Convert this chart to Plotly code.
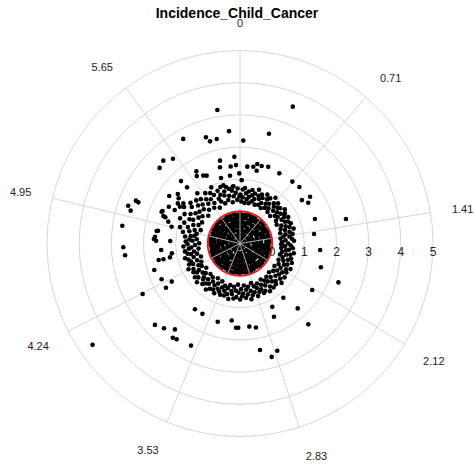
import numpy as np
import plotly.graph_objects as go

# Angular tick values (radians) and radial tick values
angle_ticks = [0, 0.71, 1.41, 2.12, 2.83, 3.53, 4.24, 4.95, 5.65]
radial_ticks = [0, 1, 2, 3, 4, 5]
radial_range = [-1, 5]
threshold = 0

# Scores below the threshold (dense core)
core_theta = [
    0.02, 0.15, 0.27, 0.40, 0.52, 0.65, 0.78, 0.90, 1.03, 1.15, 1.28, 1.41, 1.53, 1.66, 1.78, 1.91, 2.04,
    2.16, 2.29, 2.41, 2.54, 2.67, 2.79, 2.92, 3.04, 3.17, 3.30, 3.42, 3.55, 3.67, 3.80, 3.93, 4.05, 4.18,
    4.30, 4.43, 4.56, 4.68, 4.81, 4.93, 5.06, 5.19, 5.31, 5.44, 5.56, 5.69, 5.82, 5.94, 6.07, 6.19,
    0.07, 0.21, 0.36, 0.50, 0.64, 0.78, 0.93, 1.07, 1.21, 1.36, 1.50, 1.64, 1.78, 1.93, 2.07, 2.21, 2.36,
    2.50, 2.64, 2.78, 2.93, 3.07, 3.21, 3.36, 3.50, 3.64, 3.78, 3.93, 4.07, 4.21, 4.36, 4.50, 4.64, 4.78,
    4.93, 5.07, 5.21, 5.36, 5.50, 5.64, 5.78, 5.93, 6.07, 6.21,
    0.11, 0.28, 0.45, 0.62, 0.79, 0.96, 1.13, 1.30, 1.47, 1.64, 1.81, 1.98, 2.15, 2.32, 2.49, 2.66, 2.83,
    3.00, 3.17, 3.34, 3.51, 3.68, 3.85, 4.02, 4.19, 4.36, 4.53, 4.70, 4.87, 5.04, 5.21, 5.38, 5.55, 5.72,
    5.89, 6.06, 6.23,
    0.04, 0.25, 0.46, 0.67, 0.88, 1.09, 1.30, 1.51, 1.71, 1.92, 2.13, 2.34, 2.55, 2.76, 2.97, 3.18, 3.39,
    3.60, 3.81, 4.02, 4.23, 4.44, 4.65, 4.86, 5.07, 5.28, 5.49, 5.70, 5.91, 6.12,
    0.13, 0.40, 0.68, 0.95, 1.22, 1.50, 1.77, 2.04, 2.32, 2.59, 2.86, 3.14, 3.41, 3.68, 3.96, 4.23, 4.50,
    4.78, 5.05, 5.32, 5.59, 5.87, 6.14,
    0.21, 0.63, 1.05, 1.47, 1.89, 2.30, 2.72, 3.14, 3.56, 3.98, 4.40, 4.82, 5.24, 5.66, 6.08,
    0.35, 1.13, 1.92, 2.70, 3.49, 4.27, 5.06, 5.84,
    0.80, 2.90, 5.00,
]
core_r = [
    -0.08, -0.11, -0.07, -0.10, -0.09, -0.12, -0.07, -0.09, -0.11, -0.08, -0.10, -0.06, -0.09, -0.12, -0.08,
    -0.10, -0.07, -0.11, -0.09, -0.08, -0.12, -0.10, -0.07, -0.09, -0.11, -0.08, -0.10, -0.06, -0.09, -0.12,
    -0.08, -0.10, -0.07, -0.11, -0.09, -0.08, -0.12, -0.10, -0.07, -0.09, -0.11, -0.08, -0.10, -0.06, -0.09,
    -0.12, -0.08, -0.10, -0.07, -0.11,
    -0.21, -0.19, -0.23, -0.20, -0.18, -0.22, -0.21, -0.19, -0.24, -0.20, -0.17, -0.22, -0.21, -0.19, -0.23,
    -0.20, -0.18, -0.22, -0.21, -0.19, -0.24, -0.20, -0.17, -0.22, -0.21, -0.19, -0.23, -0.20, -0.18, -0.22,
    -0.21, -0.19, -0.24, -0.20, -0.17, -0.22, -0.21, -0.19, -0.23, -0.20, -0.18, -0.22, -0.21, -0.19,
    -0.33, -0.35, -0.31, -0.34, -0.32, -0.36, -0.33, -0.30, -0.35, -0.33, -0.32, -0.34, -0.31, -0.36, -0.33,
    -0.35, -0.32, -0.34, -0.30, -0.33, -0.35, -0.31, -0.34, -0.32, -0.36, -0.33, -0.30, -0.35, -0.33, -0.32,
    -0.34, -0.31, -0.36, -0.33, -0.35, -0.32, -0.34,
    -0.46, -0.44, -0.48, -0.45, -0.47, -0.43, -0.46, -0.49, -0.44, -0.46, -0.45, -0.48, -0.43, -0.46, -0.47,
    -0.44, -0.46, -0.49, -0.45, -0.43, -0.47, -0.46, -0.44, -0.48, -0.45, -0.46, -0.43, -0.47, -0.44, -0.46,
    -0.58, -0.60, -0.57, -0.59, -0.61, -0.58, -0.56, -0.60, -0.59, -0.57, -0.61, -0.58, -0.60, -0.56, -0.59,
    -0.58, -0.61, -0.57, -0.60, -0.59, -0.58, -0.56, -0.60,
    -0.71, -0.73, -0.70, -0.74, -0.72, -0.71, -0.73, -0.70, -0.72, -0.74, -0.71, -0.73, -0.72, -0.70, -0.73,
    -0.85, -0.86, -0.84, -0.86, -0.85, -0.84, -0.86, -0.85,
    -0.96, -0.97, -0.95,
]

# Scores just above the threshold (ring)
ring_theta = [
    0.01, 0.03, 0.05, 0.06, 0.09, 0.11, 0.12, 0.15, 0.17, 0.19, 0.21, 0.23, 0.25, 0.27, 0.29, 0.31, 0.34,
    0.36, 0.37, 0.40, 0.42, 0.44, 0.46, 0.48, 0.51, 0.53, 0.55, 0.57, 0.59, 0.61, 0.63, 0.66, 0.68, 0.70,
    0.72, 0.74, 0.76, 0.79, 0.81, 0.83, 0.85, 0.87, 0.90, 0.92, 0.94, 0.96, 0.98, 1.01, 1.03, 1.05, 1.07,
    1.10, 1.12, 1.14, 1.16, 1.19, 1.21, 1.23, 1.25, 1.28, 1.30, 1.32, 1.34, 1.37, 1.39,
    1.41, 1.43, 1.45, 1.48, 1.50, 1.52, 1.54, 1.57, 1.59, 1.61, 1.63, 1.66, 1.68, 1.70, 1.72, 1.75, 1.77,
    1.79, 1.81, 1.84, 1.86, 1.88, 1.90, 1.93, 1.95, 1.97, 1.99, 2.02, 2.04, 2.06, 2.08,
    2.11, 2.13, 2.15, 2.17, 2.20, 2.22, 2.24, 2.26, 2.29, 2.31, 2.33, 2.35, 2.38, 2.40, 2.42, 2.44, 2.47,
    2.49, 2.51, 2.53, 2.56, 2.58, 2.60, 2.62, 2.65, 2.67, 2.69, 2.71, 2.74, 2.76, 2.78,
    2.81, 2.83, 2.85, 2.87, 2.90, 2.92, 2.94, 2.96, 2.99, 3.01, 3.03, 3.05, 3.08, 3.10, 3.12, 3.14, 3.17,
    3.19, 3.21, 3.23, 3.26, 3.28, 3.30, 3.32, 3.35, 3.37, 3.39, 3.41, 3.44, 3.46, 3.48,
    3.51, 3.53, 3.55, 3.58, 3.60, 3.62, 3.64, 3.67, 3.69, 3.71, 3.73, 3.76, 3.78, 3.80, 3.82, 3.85, 3.87,
    3.89, 3.91, 3.94, 3.96, 3.98, 4.00, 4.03, 4.05, 4.07, 4.09, 4.12, 4.14, 4.16, 4.18,
    4.21, 4.23, 4.25, 4.27, 4.30, 4.32, 4.34, 4.36, 4.39, 4.41, 4.43, 4.45, 4.48, 4.50, 4.52, 4.54, 4.57,
    4.59, 4.61, 4.63, 4.66, 4.68, 4.70, 4.72, 4.75, 4.77, 4.79, 4.81, 4.84, 4.86, 4.88,
    4.91, 4.93, 4.95, 4.98, 5.00, 5.02, 5.04, 5.07, 5.09, 5.11, 5.13, 5.16, 5.18, 5.20, 5.22, 5.25, 5.27,
    5.29, 5.31, 5.34, 5.36, 5.38, 5.40, 5.43, 5.45, 5.47, 5.49, 5.52, 5.54, 5.56, 5.58, 5.61, 5.63,
    5.66, 5.68, 5.70, 5.72, 5.75, 5.77, 5.79, 5.81, 5.84, 5.86, 5.88, 5.90, 5.93, 5.95, 5.97, 5.99, 6.02,
    6.04, 6.06, 6.08, 6.11, 6.13, 6.15, 6.17, 6.20, 6.22, 6.24, 6.27,
]
ring_r = [
    0.52, 0.31, 0.68, 0.44, 0.73, 0.27, 0.57, 0.39, 0.64, 0.48, 0.28, 0.71, 0.55, 0.36, 0.62, 0.45, 0.77,
    0.29, 0.59, 0.50, 0.67, 0.33, 0.58, 0.42, 0.74, 0.28, 0.61, 0.47, 0.69, 0.35, 0.53, 0.80, 0.41, 0.63,
    0.30, 0.56, 0.72, 0.45, 0.61, 0.27, 0.66, 0.51, 0.38, 0.75, 0.57, 0.43, 0.68, 0.32, 0.60, 0.49, 0.71,
    0.28, 0.55, 0.64, 0.40, 0.70, 0.52, 0.34, 0.62, 0.46, 0.73, 0.29, 0.58, 0.44, 0.66,
    0.37, 0.55, 0.27, 0.62, 0.42, 0.68, 0.31, 0.50, 0.28, 0.58, 0.40, 0.65, 0.29, 0.53, 0.44, 0.70, 0.33,
    0.60, 0.48, 0.29, 0.66, 0.39, 0.57, 0.72, 0.45, 0.30, 0.61, 0.52, 0.76, 0.36, 0.64,
    0.47, 0.70, 0.28, 0.59, 0.43, 0.74, 0.55, 0.34, 0.66, 0.49, 0.78, 0.27, 0.61, 0.41, 0.69, 0.54, 0.32,
    0.72, 0.46, 0.63, 0.38, 0.75, 0.52, 0.29, 0.67, 0.44, 0.71, 0.57, 0.35, 0.62, 0.48,
    0.73, 0.40, 0.58, 0.28, 0.66, 0.51, 0.77, 0.37, 0.60, 0.45, 0.70, 0.31, 0.56, 0.64, 0.42, 0.74, 0.53,
    0.28, 0.67, 0.47, 0.72, 0.36, 0.59, 0.50, 0.76, 0.33, 0.62, 0.44, 0.69, 0.55, 0.39,
    0.71, 0.48, 0.63, 0.30, 0.57, 0.74, 0.42, 0.66, 0.52, 0.28, 0.69, 0.45, 0.78, 0.58, 0.35, 0.64, 0.49,
    0.72, 0.32, 0.60, 0.54, 0.80, 0.41, 0.67, 0.47, 0.75, 0.29, 0.61, 0.52, 0.70, 0.38,
    0.65, 0.46, 0.79, 0.33, 0.59, 0.71, 0.43, 0.62, 0.28, 0.68, 0.50, 0.77, 0.37, 0.56, 0.66, 0.45, 0.73,
    0.30, 0.60, 0.52, 0.76, 0.40, 0.63, 0.27, 0.69, 0.48, 0.58, 0.35, 0.72, 0.55, 0.44,
    0.81, 0.38, 0.62, 0.93, 0.47, 0.70, 0.29, 0.85, 0.56, 1.02, 0.41, 0.74, 0.63, 0.95, 0.35, 0.79, 0.52,
    1.08, 0.67, 0.44, 0.88, 0.60, 0.99, 0.31, 0.76, 0.55, 0.91, 0.68, 0.42, 0.84, 1.05, 0.58, 0.73,
    0.37, 0.90, 0.65, 0.49, 0.82, 0.28, 0.71, 0.96, 0.54, 0.43, 0.78, 0.63, 0.33, 0.86, 0.57, 0.69, 0.40,
    0.81, 0.52, 0.74, 0.30, 0.66, 0.48, 0.79, 0.58, 0.36, 0.71, 0.46,
]

# Scattered high scores
outer_theta = [
    6.115, 6.186, 5.786, 5.973, 5.998, 6.064, 6.218, 6.046, 6.026, 6.163, 5.536, 5.614, 5.467, 5.739,
    5.713, 5.787, 5.826, 6.001, 6.137, 6.004, 5.526, 5.527, 5.304, 5.384, 5.348, 5.285, 5.262, 5.186,
    5.189, 5.038, 5.103, 5.097, 5.004, 5.110, 5.056, 5.050, 5.008, 4.862, 4.867, 4.953, 0.368, 0.258,
    0.032, 0.095, 0.172, 0.214, 0.273, 0.353, 0.225, 0.511, 0.702, 0.810, 0.959, 0.982, 1.032, 1.255,
    1.344, 1.443, 1.652, 1.857, 2.143, 1.947, 2.468, 2.670, 2.415, 2.707, 2.440, 3.030, 2.954, 2.956,
    2.869, 2.807, 3.742, 3.632, 3.419, 3.249, 3.189, 3.162, 3.949, 3.873, 3.790, 3.761, 3.726, 3.589,
    4.111, 4.234, 4.284, 4.203, 4.174, 4.680, 4.610, 4.764, 4.745, 4.412, 4.512, 4.630, 4.509, 4.517,
    4.569, 4.748, 4.861, 5.098, 0.027, 6.232, 6.273, 6.155, 4.792, 5.329,
]
outer_r = [
    3.21, 2.51, 2.70, 2.47, 2.31, 2.33, 1.70, 1.65, 1.45, 1.41, 2.51, 2.36, 2.43, 1.62,
    1.49, 1.40, 1.35, 1.12, 1.13, 0.88, 1.67, 1.40, 1.65, 1.47, 1.37, 1.30, 1.19, 1.28,
    1.49, 2.67, 2.50, 2.41, 2.55, 1.61, 1.53, 1.46, 1.33, 2.70, 1.58, 1.19, 3.56, 2.53,
    2.20, 1.40, 1.42, 1.53, 1.50, 1.54, 1.32, 1.50, 1.52, 1.55, 1.35, 1.62, 1.47, 1.45,
    2.38, 1.32, 1.50, 1.62, 1.67, 2.29, 1.16, 1.21, 1.70, 1.51, 2.29, 1.60, 1.66, 2.37,
    2.66, 2.53, 1.48, 1.48, 1.53, 1.41, 1.62, 1.62, 2.66, 2.54, 2.35, 2.60, 2.57, 2.52,
    4.56, 2.41, 1.68, 1.43, 1.68, 2.63, 2.59, 1.68, 1.61, 1.79, 1.58, 1.46, 1.43, 1.22,
    1.14, 1.17, 1.62, 1.63, 0.97, 1.44, 1.18, 0.78, 1.65, 1.16,
]

grid_color = "#d6d6d6"
text_color = "#222222"
font_family = "Liberation Sans, Arial, sans-serif"

fig = go.Figure()

# core below the threshold
fig.add_trace(go.Scatterpolar(
    r=core_r, theta=np.degrees(np.array(core_theta)), mode="markers",
    marker=dict(color="black", size=5, line=dict(width=0)),
    showlegend=False, hoverinfo="skip",
))

# ring and scattered scores above the threshold
fig.add_trace(go.Scatterpolar(
    r=ring_r + outer_r, theta=np.degrees(np.array(ring_theta + outer_theta)), mode="markers",
    marker=dict(color="black", size=4.6, line=dict(width=0)),
    showlegend=False, hoverinfo="skip",
))

# light spokes over the core, continuing the angular grid
spoke_r, spoke_theta = [], []
for t in angle_ticks:
    spoke_r += [radial_range[0], threshold, None]
    spoke_theta += [np.degrees(t), np.degrees(t), None]
fig.add_trace(go.Scatterpolar(
    r=spoke_r, theta=spoke_theta, mode="lines",
    line=dict(color="#b0b0b0", width=1),
    showlegend=False, hoverinfo="skip",
))

# threshold circle
circle_theta = np.linspace(0, 360, 361)
fig.add_trace(go.Scatterpolar(
    r=np.full(circle_theta.shape, threshold), theta=circle_theta, mode="lines",
    line=dict(color="#dd1f1f", width=2),
    showlegend=False, hoverinfo="skip",
))

fig.update_layout(
    width=474, height=465,
    margin=dict(l=47, r=41, t=50, b=28),
    paper_bgcolor="white", plot_bgcolor="white",
    font=dict(family=font_family, color=text_color, size=11),
    title=dict(
        text="<b>Incidence_Child_Cancer</b>", x=0.5, xanchor="center",
        y=0.972, yref="container", yanchor="middle",
        font=dict(size=14, color="black", family=font_family),
    ),
    polar=dict(
        bgcolor="white",
        radialaxis=dict(
            range=radial_range, tickvals=radial_ticks,
            ticktext=[str(v) for v in radial_ticks],
            angle=0, tickangle=0, showline=False, ticks="",
            gridcolor=grid_color, gridwidth=1,
            tickfont=dict(size=12, color=text_color),
        ),
        angularaxis=dict(
            rotation=90, direction="clockwise",
            tickvals=[np.degrees(t) for t in angle_ticks],
            ticktext=[f"{t:g}" for t in angle_ticks],
            ticks="outside", ticklen=19, tickcolor="rgba(0,0,0,0)",
            showline=True, linecolor=grid_color, linewidth=1,
            gridcolor=grid_color, gridwidth=1,
            tickfont=dict(size=11, color=text_color),
        ),
    ),
)

fig.write_html("out.html")
